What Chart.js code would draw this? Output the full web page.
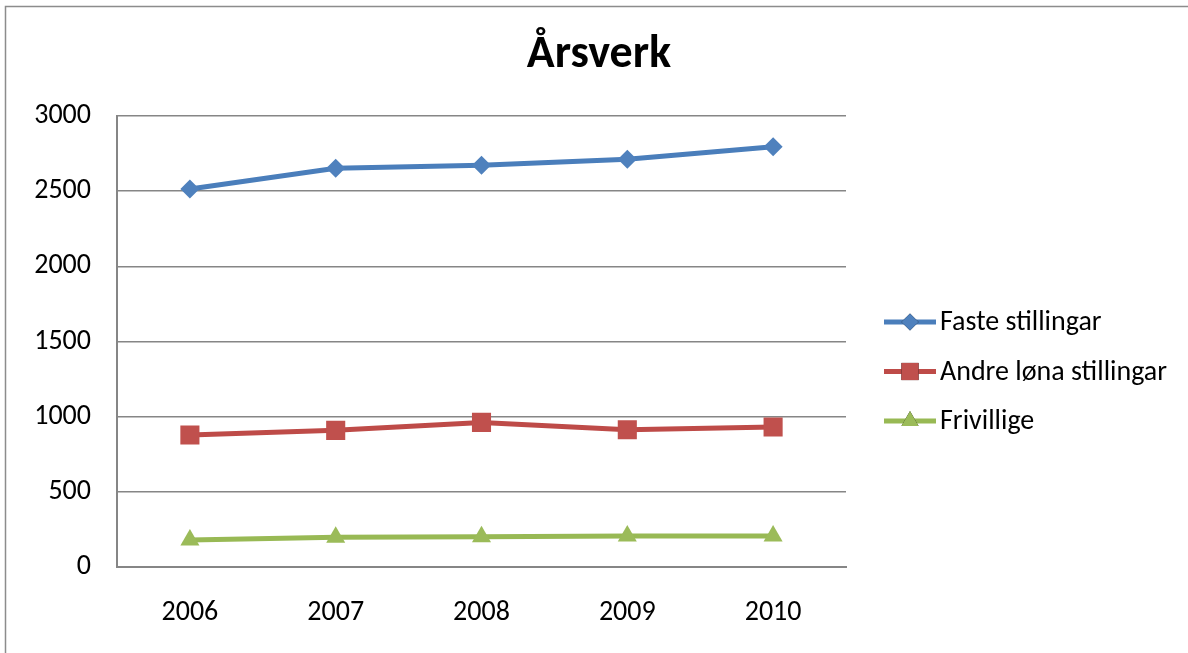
<!DOCTYPE html>
<html lang="nn">
<head>
    <meta charset="UTF-8">
    <title>Årsverk</title>
    <script src="https://cdn.jsdelivr.net/npm/chart.js"></script>
    <style>
        html, body { margin: 0; padding: 0; background: #fff; }
        #wrap { width: 1188px; height: 653px; }
    </style>
</head>
<body>
    <div id="wrap"><canvas id="myChart" width="1188" height="653"></canvas></div>
    <script>
        // data
        const years = ['2006', '2007', '2008', '2009', '2010'];
        const faste = [2515, 2652, 2673, 2712, 2795];
        const andre = [878, 909, 962, 913, 931];
        const frivillige = [180, 198, 202, 207, 207];
        const yTicks = [0, 500, 1000, 1500, 2000, 2500, 3000];

        const FONT = 'Carlito, Calibri, Lato, sans-serif';
        const GRID = '#868686';

        // border, title over the full width, and a legend with line + marker
        const frame = {
            id: 'frame',
            afterDraw(chart) {
                const ctx = chart.ctx;
                ctx.save();
                ctx.strokeStyle = '#8c8c8c';
                ctx.lineWidth = 1.5;
                ctx.strokeRect(5.5, 6.5, 1300, 800);

                ctx.fillStyle = '#000';
                ctx.font = 'bold 46px ' + FONT;
                ctx.textAlign = 'center';
                ctx.textBaseline = 'middle';
                ctx.fillText('Årsverk', 599, 55);

                const x0 = 884, x1 = 936;
                let y = 322;
                chart.data.datasets.forEach(ds => {
                    ctx.strokeStyle = ds.borderColor;
                    ctx.lineWidth = 5;
                    ctx.beginPath();
                    ctx.moveTo(x0, y);
                    ctx.lineTo(x1, y);
                    ctx.stroke();
                    Chart.helpers.drawPoint(ctx, {
                        pointStyle: ds.pointStyle,
                        radius: ds.pointRadius * 0.9,
                        borderWidth: 0
                    }, (x0 + x1) / 2, y);
                    ctx.fillStyle = ds.pointBackgroundColor;
                    ctx.fill();
                    ctx.fillStyle = '#000';
                    ctx.font = '28px ' + FONT;
                    ctx.textBaseline = 'middle';
                    ctx.textAlign = 'left';
                    ctx.fillText(ds.label, 940, y + 1);
                    y += 49.5;
                });
                ctx.restore();
            }
        };

        function series(label, values, line, fill, style, r) {
            return {
                label: label,
                data: values,
                borderColor: line,
                backgroundColor: fill,
                pointBackgroundColor: fill,
                pointBorderWidth: 0,
                pointStyle: style,
                pointRadius: r,
                pointHoverRadius: r,
                borderWidth: 5,
                tension: 0
            };
        }

        const config = {
            type: 'line',
            data: {
                labels: years,
                datasets: [
                    series('Faste stillingar', faste, '#4A7EBB', '#4F81BD', 'rectRot', 9.5),
                    series('Andre løna stillingar', andre, '#BE4B48', '#C0504D', 'rect', 13.5),
                    series('Frivillige', frivillige, '#98B954', '#9BBB59', 'triangle', 11)
                ]
            },
            options: {
                responsive: false,
                animation: false,
                layout: { padding: { left: 0, right: 342, top: 116, bottom: 0 } },
                plugins: {
                    legend: { display: false },
                    tooltip: { enabled: false },
                    title: { display: false }
                },
                scales: {
                    x: {
                        offset: true,
                        grid: { display: false, drawTicks: false },
                        border: { color: GRID, width: 2 },
                        ticks: { color: '#000', font: { family: FONT, size: 28 }, padding: 29, maxRotation: 0 },
                        afterFit(s) { s.height = 86; }
                    },
                    y: {
                        min: 0,
                        max: 3000,
                        afterBuildTicks(s) { s.ticks = yTicks.map(v => ({ value: v })); },
                        grid: { color: GRID, lineWidth: 1.5, drawTicks: false },
                        border: { color: GRID, width: 2 },
                        ticks: {
                            color: '#000',
                            font: { family: FONT, size: 28 },
                            padding: 26,
                            callback: v => String(v)
                        },
                        afterFit(s) { s.width = 117; }
                    }
                }
            },
            plugins: [frame]
        };

        new Chart(document.getElementById('myChart').getContext('2d'), config);
    </script>
</body>
</html>
